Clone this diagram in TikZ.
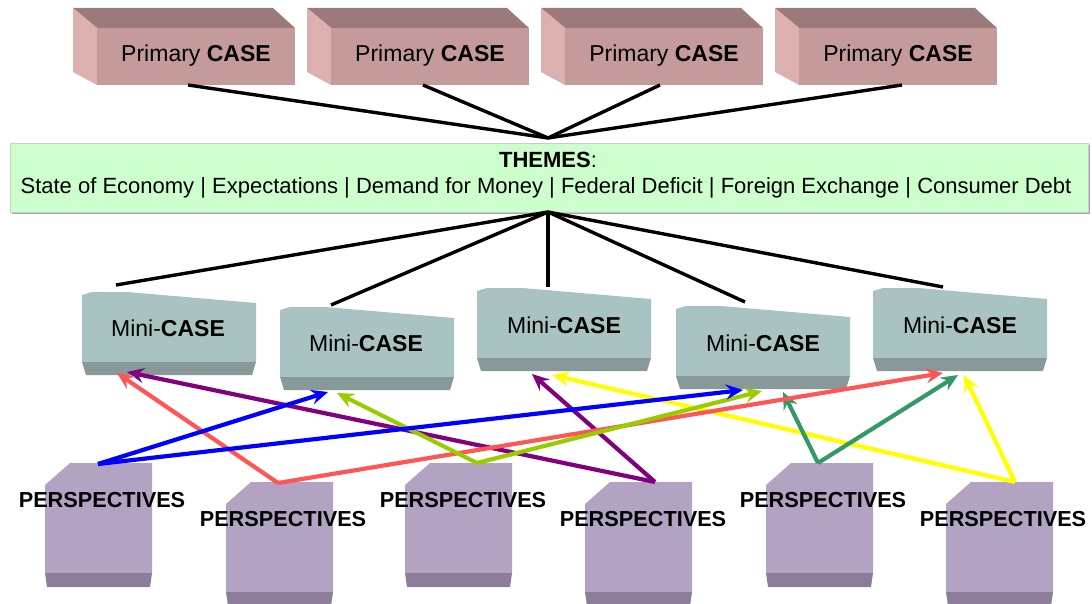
\documentclass[tikz,border=0pt]{standalone}
\usepackage{fontspec}
\setmainfont{Liberation Sans}
\usetikzlibrary{arrows.meta}
\definecolor{pfront}{HTML}{C49A9A}
\definecolor{ptop}{HTML}{9C7A7A}
\definecolor{pside}{HTML}{DDB0B0}
\definecolor{mface}{HTML}{A9C3C3}
\definecolor{mstrip}{HTML}{879999}
\definecolor{vface}{HTML}{B3A3C3}
\definecolor{vstrip}{HTML}{8C7D9A}
\definecolor{tfill}{HTML}{CCFFCC}
\definecolor{cblue}{HTML}{0000FF}
\definecolor{cred}{HTML}{FF5555}
\definecolor{cyg}{HTML}{99CC00}
\definecolor{cpurple}{HTML}{800080}
\definecolor{cgreen}{HTML}{339966}
\definecolor{cyellow}{HTML}{FFFF00}
\newcommand{\primshape}[1]{%
  \fill[ptop] (#1-24,8) -- (#1+176,8) -- (#1+198,28) -- (#1,28) -- cycle;
  \fill[pside] (#1-24,8) -- (#1,28) -- (#1,85) -- (#1-24,72) -- cycle;
  \fill[pfront] (#1,28) rectangle (#1+198,85);}
\newcommand{\minishape}[2]{%
  \fill[mface] (#1,#2+3) -- (#1+10,#2) -- (#1+45,#2) -- (#1+174,#2+11) -- (#1+174,#2+70) -- (#1,#2+70) -- cycle;
  \fill[mstrip] (#1,#2+70) -- (#1+174,#2+70) -- (#1+170,#2+83) -- (#1+4,#2+83) -- cycle;}
\newcommand{\persshape}[2]{%
  \fill[vface] (#1,#2+22) -- (#1+25,#2) -- (#1+107,#2) -- (#1+107,#2+110) -- (#1,#2+110) -- cycle;
  \fill[vstrip] (#1,#2+110) -- (#1+107,#2+110) -- (#1+105,#2+124) -- (#1+2,#2+124) -- cycle;}
\begin{document}
\begin{tikzpicture}[x=1pt,y=-1pt,
  primlabel/.style={font=\fontsize{23}{25}\selectfont},
  minilabel/.style={font=\fontsize{23}{25}\selectfont},
  perslabel/.style={font=\fontsize{21.7}{23}\selectfont\bfseries},
  themefont/.style={font=\fontsize{22}{24}\selectfont},
  blackline/.style={line width=3.4pt,black},
  arr/.style={line width=4.2pt,-{Stealth[length=17pt,width=15pt,inset=6pt]}}]
\useasboundingbox (0,0) rectangle (1092,604);
% primary case boxes
\primshape{97}\primshape{331}\primshape{565}\primshape{799}
\node[primlabel] (pc1) at (196,56) {Primary \textbf{CASE}};
\node[primlabel] (pc2) at (430,56) {Primary \textbf{CASE}};
\node[primlabel] (pc3) at (664,56) {Primary \textbf{CASE}};
\node[primlabel] (pc4) at (898,56) {Primary \textbf{CASE}};
\coordinate (pc1b) at (188,85);
\coordinate (pc2b) at (423,85);
\coordinate (pc3b) at (660,85);
\coordinate (pc4b) at (902,85);
% themes
\fill[gray!70] (12,145) rectangle (1090,214);
\filldraw[fill=tfill,draw=gray!40] (10,143) rectangle (1088,212);
\node[themefont] (thtitle) at (548,160) {\textbf{THEMES}:};
\node[themefont] (thlist) at (546,188) {State of Economy | Expectations | Demand for Money | Federal Deficit | Foreign Exchange | Consumer Debt};
\coordinate (tht) at (548,138);
\coordinate (thb) at (548,212);
% mini cases
\minishape{82}{292}\minishape{280}{307}\minishape{477}{288}\minishape{676}{306}\minishape{873}{288}
\node[minilabel] (m1) at (168,328) {Mini-\textbf{CASE}};
\node[minilabel] (m2) at (366,343) {Mini-\textbf{CASE}};
\node[minilabel] (m3) at (564,325) {Mini-\textbf{CASE}};
\node[minilabel] (m4) at (763,343) {Mini-\textbf{CASE}};
\node[minilabel] (m5) at (960,325) {Mini-\textbf{CASE}};
\coordinate (m1t) at (116,285);
\coordinate (m2t) at (331,305);
\coordinate (m3t) at (548,287);
\coordinate (m4t) at (745,302);
\coordinate (m5t) at (943,287);
% perspectives
\persshape{45}{463}\persshape{226}{482}\persshape{405}{463}\persshape{585}{482}\persshape{766}{463}\persshape{946}{482}
\coordinate (v1t) at (98,464);
\coordinate (v2t) at (278,483);
\coordinate (v3t) at (477,463);
\coordinate (v4t) at (655,482);
\coordinate (v5t) at (818,463);
\coordinate (v6t) at (1015,482);
% black connectors
\foreach \s in {pc1b,pc2b,pc3b,pc4b} \draw[blackline] (\s) -- (tht);
\foreach \t in {m1t,m2t,m3t,m4t,m5t} \draw[blackline] (thb) -- (\t);
% arrow targets
\coordinate (bl1) at (328,392); \coordinate (bl2) at (743,390);
\coordinate (rd1) at (117,373); \coordinate (rd2) at (943,373);
\coordinate (yg1) at (337,393); \coordinate (yg2) at (762,391);
\coordinate (pu1) at (127,372); \coordinate (pu2) at (532,374);
\coordinate (gr1) at (783,392); \coordinate (gr2) at (958,375);
\coordinate (ye1) at (552,375); \coordinate (ye2) at (964,375);
\draw[arr,cyellow] (v6t) -- (ye1); \draw[arr,cyellow] (v6t) -- (ye2);
\draw[arr,cgreen] (v5t) -- (gr1); \draw[arr,cgreen] (v5t) -- (gr2);
\draw[arr,cpurple] (v4t) -- (pu1); \draw[arr,cpurple] (v4t) -- (pu2);
\draw[arr,cred] (v2t) -- (rd1); \draw[arr,cred] (v2t) -- (rd2);
\draw[arr,cyg] (v3t) -- (yg1); \draw[arr,cyg] (v3t) -- (yg2);
\draw[arr,cblue] (v1t) -- (bl1); \draw[arr,cblue] (v1t) -- (bl2);
% perspective labels
\node[perslabel] (vp1) at (102,500) {PERSPECTIVES};
\node[perslabel] (vp2) at (283,519) {PERSPECTIVES};
\node[perslabel] (vp3) at (463,500) {PERSPECTIVES};
\node[perslabel] (vp4) at (643,519) {PERSPECTIVES};
\node[perslabel] (vp5) at (823,500) {PERSPECTIVES};
\node[perslabel] (vp6) at (1003,519) {PERSPECTIVES};
\end{tikzpicture}
\end{document}
